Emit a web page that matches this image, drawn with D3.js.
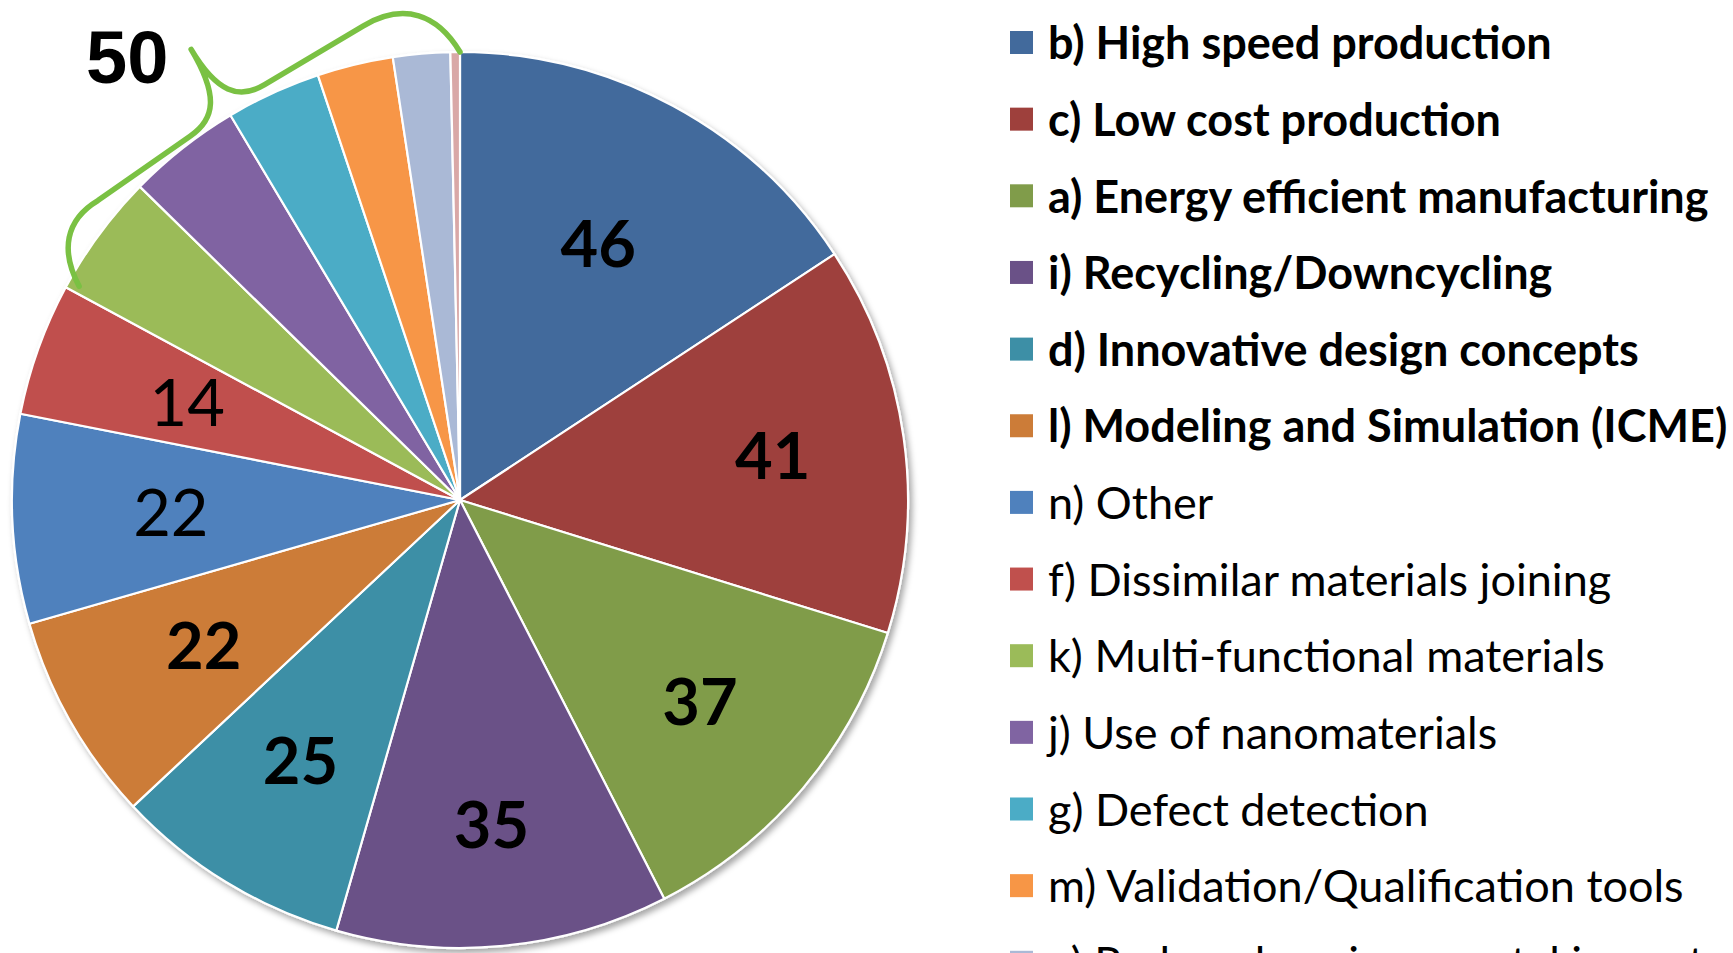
<!DOCTYPE html>
<html>
<head>
<meta charset="utf-8">
<script src="https://cdn.jsdelivr.net/npm/d3@7"></script>
<style>
  html, body { margin: 0; padding: 0; background: #fff; overflow: hidden; }
  svg { display: block; }
</style>
</head>
<body>
<svg id="chart" width="1733" height="953"></svg>
<script>
// ---- data ----
const categories = [
  "b) High speed production",
  "c) Low cost production",
  "a) Energy efficient manufacturing",
  "i) Recycling/Downcycling",
  "d) Innovative design concepts",
  "l) Modeling and Simulation (ICME)",
  "n) Other",
  "f) Dissimilar materials joining",
  "k) Multi-functional materials",
  "j) Use of nanomaterials",
  "g) Defect detection",
  "m) Validation/Qualification tools",
  "e) Reduced environmental impact",
  "h) Corrosion protection"
];
const values = [46, 41, 37, 35, 25, 22, 22, 14, 13, 12, 10, 8, 6, 1];
const colors = ["#426A9C", "#9E403C", "#809C4A", "#6A5187", "#3D8FA6", "#CC7C38",
                "#4F81BD", "#C0504D", "#9BBB59", "#8064A2", "#4BACC6", "#F79646",
                "#AAB9D6", "#D9A8A7"];
const boldItems = [true, true, true, true, true, true, false, false, false, false, false, false, false, false];
const labelledCount = 8;          // slices that carry their own value label
const groupStart = 8;             // small slices gathered under the bracket

// label distance from centre, as a fraction of the radius (layout only)
const labelRadius = [0.65, 0.705, 0.70, 0.727, 0.683, 0.658, 0.646, 0.647];

// ---- layout ----
const svg = d3.select("#chart");
const cx = 460, cy = 500, R = 448;
const fontMain = "Lato, 'Open Sans', sans-serif";

const defs = svg.append("defs");
const f = defs.append("filter").attr("id", "shadow")
  .attr("x", "-10%").attr("y", "-10%").attr("width", "120%").attr("height", "120%");
f.append("feDropShadow").attr("dx", 3).attr("dy", 4).attr("stdDeviation", 3)
  .attr("flood-color", "#000").attr("flood-opacity", 0.35);

const pie = d3.pie().sort(null).value(d => d);
const arcs = pie(values);
const arc = d3.arc().innerRadius(0).outerRadius(R);

const g = svg.append("g").attr("transform", `translate(${cx},${cy})`);
g.append("g").attr("filter", "url(#shadow)")
  .selectAll("path").data(arcs).join("path")
  .attr("d", arc)
  .attr("fill", (d, i) => colors[i])
  .attr("stroke", "#fff")
  .attr("stroke-width", 2.2)
  .attr("stroke-linejoin", "round");

g.selectAll("text.val").data(arcs.slice(0, labelledCount)).join("text")
  .attr("class", "val")
  .attr("transform", (d, i) => {
    const r = R * labelRadius[i];
    return `translate(${d3.arc().innerRadius(r).outerRadius(r).centroid(d)})`;
  })
  .attr("text-anchor", "middle")
  .attr("dy", "0.36em")
  .attr("font-family", fontMain)
  .attr("font-size", 65)
  .attr("font-weight", (d, i) => boldItems[i] ? 700 : 400)
  .attr("fill", "#000")
  .text(d => d.data);

// ---- bracket over the small slices ----
const a1 = arcs[groupStart].startAngle, a2 = arcs[arcs.length - 1].endAngle;
const P1 = [cx + R * Math.sin(a1), cy - R * Math.cos(a1)];
const P2 = [cx + R * Math.sin(a2), cy - R * Math.cos(a2)];
const L = Math.hypot(P2[0] - P1[0], P2[1] - P1[1]);
const ux = (P2[0] - P1[0]) / L, uy = (P2[1] - P1[1]) / L;
const vx = uy, vy = -ux; // outward normal
const tp = (u, v) => [P1[0] + u * ux + v * vx, P1[1] + u * uy + v * vy];
const hA = 58, hB = 66, hC = 72, tipV = 140, m = L / 2;
const bp = d3.path();
bp.moveTo(...tp(12, -6));
bp.bezierCurveTo(...tp(14, 34), ...tp(34, hA), ...tp(72, hA));
bp.lineTo(...tp(m - 45, hB));
bp.bezierCurveTo(...tp(m - 15, hB + 2), ...tp(m, hB + 20), ...tp(m, tipV));
bp.bezierCurveTo(...tp(m, hC + 18), ...tp(m + 15, hC), ...tp(m + 45, hC));
bp.lineTo(...tp(L - 70, hC));
bp.bezierCurveTo(...tp(L - 22, hC), ...tp(L, hC * 0.6), ...tp(L, 0));
svg.append("path").attr("d", bp.toString())
  .attr("fill", "none").attr("stroke", "#7AC143").attr("stroke-width", 5.5)
  .attr("stroke-linecap", "round").attr("stroke-linejoin", "round");

const groupTotal = d3.sum(values.slice(groupStart));
svg.append("text")
  .attr("x", 86).attr("y", 83)
  .attr("font-family", "'Liberation Sans', Arial, sans-serif")
  .attr("font-weight", 700).attr("font-size", 74)
  .attr("fill", "#000")
  .text(groupTotal);

// ---- legend ----
const legendY = d3.scaleLinear().domain([0, 1]).range([43, 43 + 76.65]);
const lg = svg.append("g");
const items = lg.selectAll("g").data(categories).join("g")
  .attr("transform", (d, i) => `translate(1010,${legendY(i)})`);
items.append("rect")
  .attr("x", 0).attr("y", -12).attr("width", 23).attr("height", 23)
  .attr("fill", (d, i) => colors[i]);
items.append("text")
  .attr("x", 38).attr("dy", "0.36em")
  .attr("font-family", fontMain)
  .attr("font-size", 45)
  .attr("font-weight", (d, i) => boldItems[i] ? 700 : 400)
  .attr("fill", "#000")
  .text(d => d);
</script>
</body>
</html>
